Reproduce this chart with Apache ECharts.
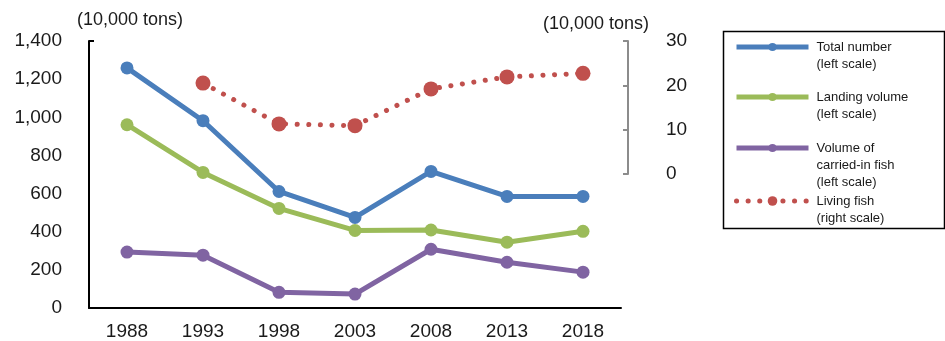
<!DOCTYPE html>
<html>
<head>
<meta charset="utf-8">
<script src="https://cdn.jsdelivr.net/npm/echarts@6/dist/echarts.min.js"></script>
<style>html,body{margin:0;padding:0;background:#fff;}#chart{width:945px;height:341px;}</style>
</head>
<body>
<div id="chart"></div>
<script>
const years = ['1988', '1993', '1998', '2003', '2008', '2013', '2018'];
const totalNumber = [1259, 982, 611, 475, 716, 585, 585];
const landingVolume = [961, 711, 522, 407, 409, 345, 402];
const carriedInFish = [293, 277, 82, 73, 308, 240, 188];
const livingFish = [null, 20.5, 11.3, 10.9, 19.2, 21.9, 22.7];
const leftTicks = [0, 1400, 200];
const rightTicks = [0, 30, 10];
const unitLabel = '(10,000 tons)';
const seriesNames = ['Total number', 'Landing volume', 'Volume of carried-in fish', 'Living fish'];
const legendTexts = ['Total number\n(left scale)', 'Landing volume\n(left scale)', 'Volume of\ncarried-in fish\n(left scale)', 'Living fish\n(right scale)'];

const colors = ['#4A7EBB', '#9BBB59', '#8064A2', '#C0504D'];
const FONT = 'Liberation Sans, Arial, sans-serif';
const chart = echarts.init(document.getElementById('chart'), null, {renderer: 'canvas'});

const lineHeight = 17;
const legendIconY = [47, 97, 148, 201];
const legends = seriesNames.map((name, i) => {
  const n = legendTexts[i].split('\n').length;
  const isRed = i === 3;
  const shown = '\u00a0\n'.repeat(n - 1) + legendTexts[i];
  return {
    orient: 'vertical',
    left: 734,
    top: legendIconY[i] - (2 * n - 1) * lineHeight / 2,
    padding: 0,
    itemWidth: 72,
    itemHeight: isRed ? 12 : 10,
    selectedMode: false,
    data: [name],
    formatter: () => shown,
    lineStyle: {width: 5},
    textStyle: {
      fontFamily: FONT, fontSize: 13, color: '#1a1a1a', lineHeight: lineHeight,
      padding: [0, 0, 0, 3]
    }
  };
});

const option = {
  animation: false,
  backgroundColor: '#fff',
  textStyle: {fontFamily: FONT},
  title: [
    {text: unitLabel, left: 77, top: 11, padding: 0, textStyle: {fontFamily: FONT, fontSize: 18, fontWeight: 'normal', color: '#1a1a1a'}},
    {text: unitLabel, left: 543, top: 15, padding: 0, textStyle: {fontFamily: FONT, fontSize: 18, fontWeight: 'normal', color: '#1a1a1a'}}
  ],
  legend: legends,
  graphic: [{
    type: 'rect', left: 721, top: 29, z: 0,
    shape: {width: 221, height: 197},
    style: {fill: 'none', stroke: '#000', lineWidth: 1.5}
  }],
  grid: [
    {left: 89, right: 324, top: 41, bottom: 32},
    {left: 89, right: 324, top: 41, bottom: 167}
  ],
  xAxis: [
    {
      type: 'category', gridIndex: 0, data: years, boundaryGap: true,
      axisLine: {lineStyle: {color: '#000', width: 2}},
      axisTick: {show: false},
      axisLabel: {fontFamily: FONT, fontSize: 19, color: '#1a1a1a', margin: 14}
    },
    {type: 'category', gridIndex: 1, data: years, boundaryGap: true, show: false}
  ],
  yAxis: [
    {
      type: 'value', gridIndex: 0, min: leftTicks[0], max: leftTicks[1], interval: leftTicks[2],
      axisLine: {show: true, lineStyle: {color: '#000', width: 2}},
      axisTick: {show: true, inside: true, length: 5, lineStyle: {color: '#000', width: 2}, customValues: [leftTicks[1]]},
      splitLine: {show: false},
      axisLabel: {fontFamily: FONT, fontSize: 19, color: '#1a1a1a', margin: 27,
        formatter: v => v.toLocaleString('en-US')}
    },
    {
      type: 'value', gridIndex: 1, position: 'right', offset: 7,
      min: rightTicks[0], max: rightTicks[1], interval: rightTicks[2],
      axisLine: {show: true, lineStyle: {color: '#8c8c8c', width: 2}},
      axisTick: {show: true, inside: true, length: 5, lineStyle: {color: '#8c8c8c', width: 2}},
      splitLine: {show: false},
      axisLabel: {fontFamily: FONT, fontSize: 19, color: '#1a1a1a', margin: 38}
    }
  ],
  series: [
    {
      name: seriesNames[2], type: 'line', xAxisIndex: 0, yAxisIndex: 0, data: carriedInFish,
      symbol: 'circle', symbolSize: 13, z: 3,
      lineStyle: {color: colors[2], width: 5}, itemStyle: {color: colors[2]}
    },
    {
      name: seriesNames[1], type: 'line', xAxisIndex: 0, yAxisIndex: 0, data: landingVolume,
      symbol: 'circle', symbolSize: 13, z: 4,
      lineStyle: {color: colors[1], width: 5}, itemStyle: {color: colors[1]}
    },
    {
      name: seriesNames[0], type: 'line', xAxisIndex: 0, yAxisIndex: 0, data: totalNumber,
      symbol: 'circle', symbolSize: 13, z: 5,
      lineStyle: {color: colors[0], width: 5}, itemStyle: {color: colors[0]}
    },
    {
      name: seriesNames[3], type: 'line', xAxisIndex: 1, yAxisIndex: 1, data: livingFish,
      symbol: 'circle', symbolSize: 15, z: 6,
      lineStyle: {color: colors[3], width: 5, type: [0.1, 11.5], cap: 'round'},
      itemStyle: {color: colors[3]}
    }
  ]
};
chart.setOption(option);
</script>
</body>
</html>
